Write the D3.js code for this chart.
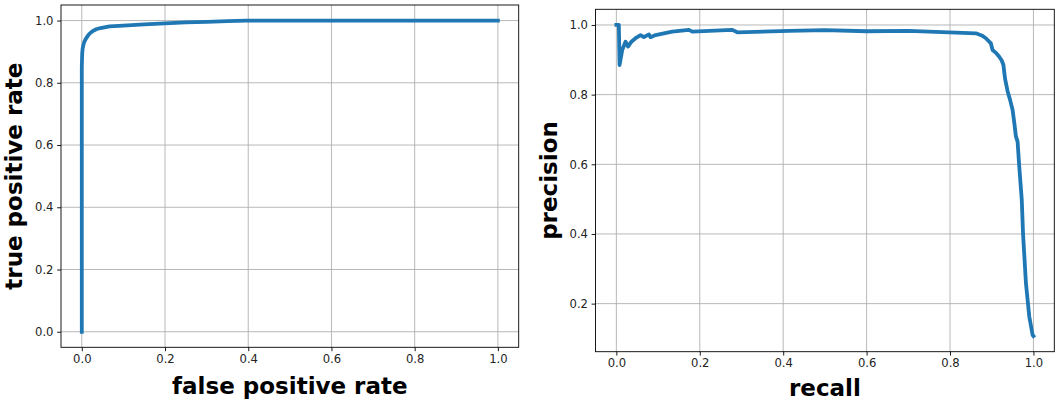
<!DOCTYPE html>
<html>
<head>
<meta charset="utf-8">
<script src="https://cdn.jsdelivr.net/npm/d3@7"></script>
<style>
  html, body { margin: 0; padding: 0; background: #fff; }
  svg { display: block; }
  text { font-family: "DejaVu Sans", sans-serif; }
</style>
</head>
<body>
<svg id="chart" width="1062" height="401"></svg>
<script>
// ROC curve data
const fpr = [0, 0, 0.0005, 0.001, 0.002, 0.004, 0.0065, 0.01, 0.014, 0.0185, 0.025, 0.0346, 0.045, 0.0665, 0.1, 0.15, 0.2, 0.25, 0.3, 0.35, 0.395, 0.5, 0.6, 0.8, 1.0];
const tpr = [0, 0.85, 0.875, 0.895, 0.91, 0.923, 0.933, 0.942, 0.95, 0.958, 0.965, 0.972, 0.976, 0.981, 0.984, 0.988, 0.991, 0.994, 0.996, 0.998, 0.9995, 1.0, 1.0, 1.0, 1.0];

// Precision-recall curve data
const recall = [0, 0.006, 0.007, 0.0077, 0.014, 0.022, 0.028, 0.036, 0.046, 0.058, 0.066, 0.078, 0.082, 0.094, 0.134, 0.174, 0.182, 0.278, 0.29, 0.414, 0.5, 0.6, 0.7, 0.798, 0.862, 0.876, 0.886, 0.898, 0.902, 0.91, 0.918, 0.924, 0.928, 0.932, 0.938, 0.944, 0.95, 0.954, 0.958, 0.962, 0.966, 0.972, 0.975, 0.982, 0.99, 0.998, 1.0];
const precision = [1.0, 1.0, 0.93, 0.885, 0.928, 0.952, 0.938, 0.952, 0.962, 0.971, 0.965, 0.973, 0.965, 0.971, 0.981, 0.986, 0.981, 0.986, 0.979, 0.983, 0.985, 0.982, 0.983, 0.979, 0.976, 0.97, 0.962, 0.947, 0.928, 0.92, 0.909, 0.898, 0.885, 0.845, 0.81, 0.785, 0.756, 0.72, 0.68, 0.665, 0.593, 0.498, 0.402, 0.259, 0.163, 0.110, 0.107];

const xTicks = [0, 0.2, 0.4, 0.6, 0.8, 1.0];
const yTicksLeft = [0, 0.2, 0.4, 0.6, 0.8, 1.0];
const yTicksRight = [0.2, 0.4, 0.6, 0.8, 1.0];

const labels = {
  left: { x: "false positive rate", y: "true positive rate" },
  right: { x: "recall", y: "precision" }
};

const svg = d3.select("#chart");
const color = "#1f77b4";

function panel(cfg) {
  const { box, xDomain, yDomain, xs, ys, yTicks, xLabel, yLabel, yLabelX, xLabelY } = cfg;
  const x = d3.scaleLinear().domain(xDomain).range([box.x0, box.x1]);
  const y = d3.scaleLinear().domain(yDomain).range([box.y1, box.y0]);
  const g = svg.append("g");

  // grid
  g.append("g").selectAll("line").data(xTicks).join("line")
    .attr("x1", d => x(d)).attr("x2", d => x(d))
    .attr("y1", box.y0).attr("y2", box.y1)
    .attr("stroke", "#b0b0b0").attr("stroke-width", 0.9);
  g.append("g").selectAll("line").data(yTicks).join("line")
    .attr("y1", d => y(d)).attr("y2", d => y(d))
    .attr("x1", box.x0).attr("x2", box.x1)
    .attr("stroke", "#b0b0b0").attr("stroke-width", 0.9);

  // data line
  const pts = xs.map((v, i) => [v, ys[i]]);
  g.append("path")
    .datum(pts)
    .attr("d", d3.line().x(d => x(d[0])).y(d => y(d[1])))
    .attr("fill", "none")
    .attr("stroke", color)
    .attr("stroke-width", 3.8)
    .attr("stroke-linejoin", "round")
    .attr("stroke-linecap", "square");

  // axes
  const xAxis = d3.axisBottom(x).tickValues(xTicks).tickFormat(d3.format(".1f")).tickSize(3.9).tickPadding(3.6);
  const yAxis = d3.axisLeft(y).tickValues(yTicks).tickFormat(d3.format(".1f")).tickSize(3.9).tickPadding(3.6);
  const gx = g.append("g").attr("transform", `translate(0,${box.y1})`).call(xAxis);
  const gy = g.append("g").attr("transform", `translate(${box.x0},0)`).call(yAxis);
  [gx, gy].forEach(a => {
    a.select(".domain").remove();
    a.selectAll(".tick line").attr("stroke", "#000").attr("stroke-width", 0.9);
    a.selectAll(".tick text").attr("font-size", "11.6px").attr("fill", "#222").attr("font-family", "DejaVu Sans");
  });

  // frame
  g.append("rect")
    .attr("x", box.x0).attr("y", box.y0)
    .attr("width", box.x1 - box.x0).attr("height", box.y1 - box.y0)
    .attr("fill", "none").attr("stroke", "#000").attr("stroke-width", 0.9);

  // labels
  g.append("text")
    .attr("x", (box.x0 + box.x1) / 2).attr("y", xLabelY)
    .attr("text-anchor", "middle")
    .attr("font-size", "23px").attr("font-weight", "bold").attr("fill", "#000")
    .text(xLabel);
  g.append("text")
    .attr("transform", `translate(${yLabelX},${(box.y0 + box.y1) / 2}) rotate(-90)`)
    .attr("text-anchor", "middle")
    .attr("font-size", "23px").attr("font-weight", "bold").attr("fill", "#000")
    .text(yLabel);
}

panel({
  box: { x0: 61, x1: 518.7, y0: 5, y1: 347.3 },
  xDomain: [-0.05, 1.05], yDomain: [-0.05, 1.05],
  xs: fpr, ys: tpr, yTicks: yTicksLeft,
  xLabel: labels.left.x, yLabel: labels.left.y,
  yLabelX: 22, xLabelY: 393.5
});

panel({
  box: { x0: 595.5, x1: 1054.3, y0: 9.3, y1: 351.7 },
  xDomain: [-0.05, 1.05], yDomain: [0.062, 1.045],
  xs: recall, ys: precision, yTicks: yTicksRight,
  xLabel: labels.right.x, yLabel: labels.right.y,
  yLabelX: 557, xLabelY: 396
});
</script>
</body>
</html>
